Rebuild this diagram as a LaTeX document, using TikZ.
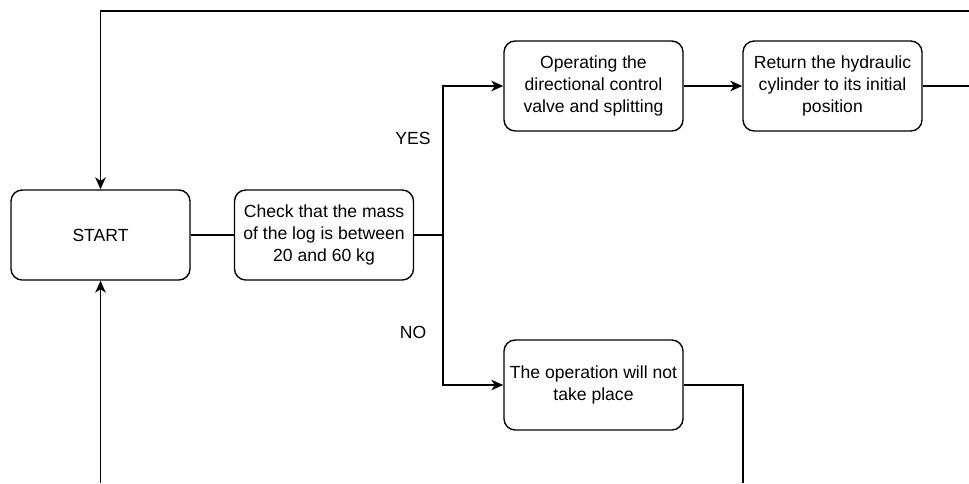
\documentclass[tikz,border=0pt]{standalone}
\usepackage{fontspec}
\setmainfont{Liberation Sans}
\usetikzlibrary{arrows.meta}
\begin{document}
\begin{tikzpicture}[x=0.025cm, y=-0.025cm, line width=1pt,
    >={Stealth[length=8.5pt, width=7.5pt, inset=2.5pt]},
    box/.style={draw, rounded corners=8pt, minimum width=4.475cm, minimum height=2.25cm,
      align=center, inner sep=1pt, font=\fontsize{12.5}{15.4}\selectfont},
    lbl/.style={font=\fontsize{12.5}{15.4}\selectfont}]
  \useasboundingbox (0,0) rectangle (969,483);

  \node[box] (start) at (100.5,235) {START};
  \node[box] (check) at (324,235) {Check that the mass\\of the log is between\\20 and 60 kg};
  \node[box] (valve) at (593.5,86) {Operating the\\directional control\\valve and splitting};
  \node[box] (reset) at (832.5,86) {Return the hydraulic\\cylinder to its initial\\position};
  \node[box] (noop) at (593.5,385) {The operation will not\\take place};

  \node[lbl] (yes) at (413,138) {YES};
  \node[lbl] (no) at (413,332) {NO};

  \coordinate (split) at (443,235);
  \coordinate (topright) at (969,11);
  \coordinate (rightend) at (969,86);
  \coordinate (bottomleft) at (100.5,483);
  \coordinate (bottomright) at (743,483);

  \draw (start) -- (check);
  \draw (check) -- (split);
  \draw[->] (split) |- (valve);
  \draw[->] (split) |- (noop);
  \draw[->] (valve) -- (reset);
  \draw (reset) -- (rightend);
  \draw[->] (topright) -| (start);
  \draw[->] (bottomleft) -- (start);
  \draw (noop) -| (bottomright);
\end{tikzpicture}
\end{document}
